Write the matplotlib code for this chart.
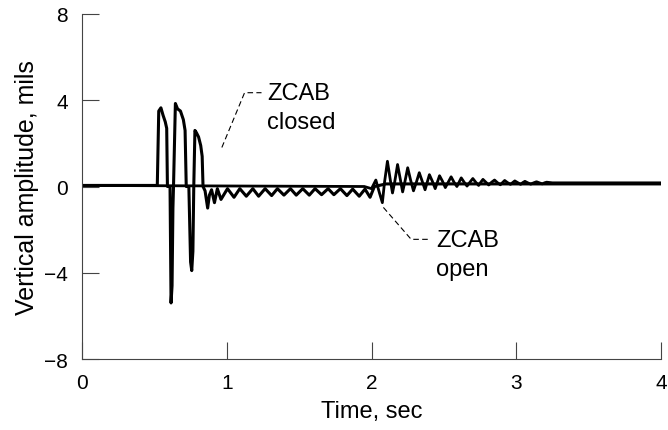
import matplotlib
matplotlib.use('Agg')
import matplotlib.pyplot as plt

plt.rcParams['font.family'] = ['Liberation Sans', 'DejaVu Sans']

# ZCAB closed: spikes at ~0.5-0.85 s, then a band just below zero up to 2 s
closed_t = [0.0, 0.52, 0.53, 0.545, 0.56, 0.575, 0.585, 0.59, 0.608, 0.615, 0.622, 0.628,
            0.632, 0.645, 0.66, 0.68, 0.70, 0.712, 0.72, 0.738, 0.75, 0.758, 0.766, 0.772,
            0.78, 0.79, 0.805, 0.82, 0.83, 0.836, 0.85, 0.868, 0.88, 0.895, 0.915, 0.935,
            0.96, 1.005, 1.05, 1.09, 1.135, 1.18, 1.22, 1.265, 1.31, 1.35, 1.395, 1.44,
            1.48, 1.525, 1.57, 1.61, 1.655, 1.70, 1.74, 1.785, 1.83, 1.87, 1.915, 1.955,
            1.99, 2.02, 2.10, 4.0]
closed_v = [0.05, 0.05, 3.5, 3.65, 3.3, 3.0, 2.7, 0.0, 0.0, -5.4, -4.6, -1.0,
            0.0, 3.85, 3.6, 3.5, 3.1, 2.6, 0.0, 0.0, -3.5, -3.9, -3.0, 0.0,
            2.6, 2.5, 2.3, 1.9, 1.4, 0.0, -0.2, -1.0, -0.4, -0.15, -0.75, -0.1,
            -0.6, -0.1, -0.5, -0.1, -0.45, -0.1, -0.45, -0.1, -0.42, -0.1, -0.4, -0.1,
            -0.4, -0.1, -0.4, -0.1, -0.38, -0.1, -0.38, -0.1, -0.42, -0.12, -0.45, -0.12,
            -0.5, 0.0, 0.12, 0.12]

# ZCAB open: flat until ~2 s, then decaying ringing
open_t = [0.0, 1.95, 2.0, 2.03, 2.055, 2.075, 2.09, 2.11, 2.13, 2.145, 2.16, 2.18,
          2.20, 2.215, 2.23, 2.25, 2.27, 2.29, 2.31, 2.33, 2.35, 2.37, 2.385, 2.40,
          2.42, 2.44, 2.455, 2.47, 2.49, 2.51, 2.53, 2.55, 2.57, 2.59, 2.605, 2.62,
          2.64, 2.66, 2.68, 2.70, 2.72, 2.74, 2.755, 2.77, 2.79, 2.81, 2.83, 2.85,
          2.87, 2.89, 2.905, 2.92, 2.94, 2.96, 2.975, 2.99, 3.01, 3.03, 3.045, 3.06,
          3.08, 3.10, 3.12, 3.14, 3.16, 3.18, 3.195, 3.21, 3.25, 4.0]
open_v = [0.05, 0.0, -0.1, 0.3, -0.3, -0.75, 0.2, 1.17, 0.3, -0.3, 0.2, 1.02,
          0.3, -0.25, 0.2, 0.87, 0.3, -0.2, 0.2, 0.64, 0.25, -0.15, 0.2, 0.55,
          0.25, -0.1, 0.2, 0.5, 0.25, -0.05, 0.2, 0.45, 0.2, 0.0, 0.2, 0.4,
          0.2, 0.02, 0.2, 0.37, 0.2, 0.05, 0.2, 0.33, 0.2, 0.07, 0.2, 0.3,
          0.18, 0.08, 0.18, 0.28, 0.18, 0.1, 0.18, 0.26, 0.18, 0.1, 0.18, 0.24,
          0.17, 0.11, 0.17, 0.22, 0.17, 0.12, 0.17, 0.2, 0.17, 0.17]

x_ticks = [0, 1, 2, 3, 4]
y_ticks = [-8, -4, 0, 4, 8]

fig = plt.figure(figsize=(6.68, 4.31), dpi=100)
ax = fig.add_axes([0.1228, 0.1647, 0.8667, 0.8005])

ax.plot(closed_t, closed_v, color='black', lw=2.2, solid_joinstyle='round')
ax.plot(open_t, open_v, color='black', lw=2.0, solid_joinstyle='round')

ax.set_xlim(0, 4)
ax.set_ylim(-8, 8)
ax.set_xticks(x_ticks)
ax.set_yticks(y_ticks)
ax.set_yticklabels(['\u22128', '\u22124', '0', '4', '8'])

for s in ['top', 'right']:
    ax.spines[s].set_visible(False)
for s in ['left', 'bottom']:
    ax.spines[s].set_color('#444444')
    ax.spines[s].set_linewidth(0.8)

ax.tick_params(direction='in', length=12, width=0.8, color='#444444',
               labelsize=15, pad=10)

ax.set_xlabel('Time, sec', fontsize=17, labelpad=6)
ax.set_ylabel('Vertical amplitude, mils', fontsize=18, labelpad=4)

# leader lines and labels
ax.plot([0.966, 1.123, 1.24], [1.81, 4.35, 4.35], color='black', lw=0.8, ls=(0, (5, 3)))
ax.text(1.28, 4.35, 'ZCAB', fontsize=17, va='center', ha='left')
ax.text(1.28, 3.0, 'closed', fontsize=17, va='center', ha='left')

ax.plot([2.082, 2.274, 2.404], [-0.97, -2.45, -2.45], color='black', lw=0.8, ls=(0, (5, 3)))
ax.text(2.445, -2.5, 'ZCAB', fontsize=17, va='center', ha='left')
ax.text(2.445, -3.84, 'open', fontsize=17, va='center', ha='left')

fig.savefig('out.png', dpi=100)
